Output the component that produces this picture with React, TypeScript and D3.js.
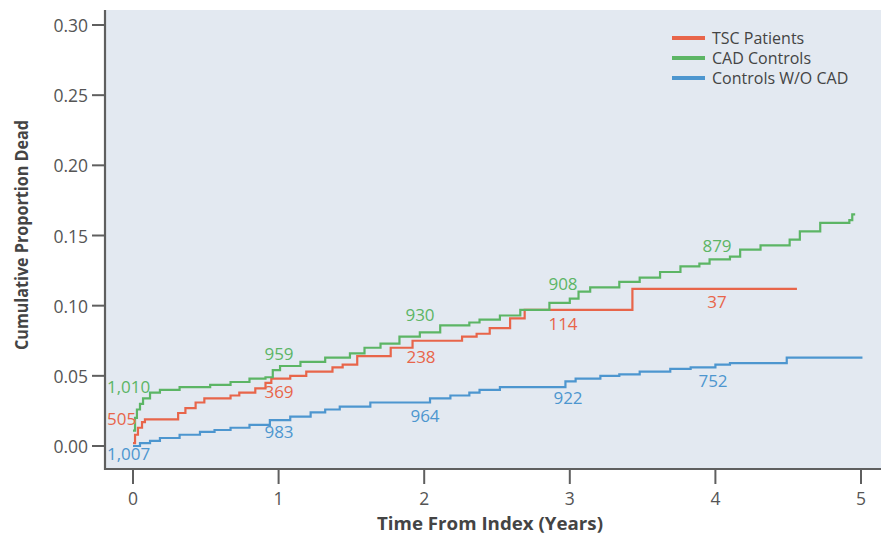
import * as d3 from "d3";

// step points: [years, cumulative proportion dead]
const tscPatients: [number, number][] = [
  [0, 0.002], [0.014, 0.008], [0.034, 0.013], [0.062, 0.017], [0.082, 0.019],
  [0.31, 0.0235], [0.36, 0.027], [0.43, 0.031], [0.49, 0.034], [0.67, 0.036],
  [0.73, 0.038], [0.84, 0.041], [0.91, 0.045], [0.95, 0.048], [1.08, 0.05],
  [1.19, 0.053], [1.37, 0.056], [1.44, 0.058], [1.54, 0.064], [1.77, 0.07],
  [1.92, 0.075], [2.26, 0.078], [2.36, 0.08], [2.45, 0.084], [2.59, 0.091],
  [2.69, 0.097], [3.43, 0.112],
];
const tscEnd = 4.56;

const cadControls: [number, number][] = [
  [0, 0.011], [0.014, 0.02], [0.027, 0.026], [0.048, 0.03], [0.069, 0.034],
  [0.117, 0.038], [0.185, 0.04], [0.32, 0.042], [0.53, 0.0435], [0.67, 0.0456],
  [0.8, 0.048], [0.91, 0.049], [0.96, 0.054], [1.01, 0.057], [1.15, 0.06],
  [1.32, 0.063], [1.49, 0.066], [1.59, 0.07], [1.7, 0.073], [1.83, 0.078],
  [1.97, 0.081], [2.11, 0.086], [2.31, 0.088], [2.38, 0.09], [2.52, 0.093],
  [2.66, 0.097], [2.86, 0.102], [3.0, 0.105], [3.06, 0.11], [3.14, 0.113],
  [3.34, 0.117], [3.48, 0.12], [3.62, 0.124], [3.76, 0.128], [3.89, 0.13],
  [3.96, 0.133], [4.1, 0.135], [4.17, 0.14], [4.31, 0.143], [4.51, 0.147],
  [4.58, 0.153], [4.72, 0.159], [4.92, 0.161], [4.94, 0.165],
];
const cadEnd = 4.96;

const controlsNoCad: [number, number][] = [
  [0, 0.0], [0.048, 0.002], [0.117, 0.0036], [0.185, 0.0057], [0.32, 0.008],
  [0.46, 0.01], [0.56, 0.0114], [0.67, 0.013], [0.8, 0.015], [0.94, 0.0185],
  [1.08, 0.021], [1.22, 0.024], [1.32, 0.026], [1.42, 0.028], [1.63, 0.031],
  [2.04, 0.034], [2.18, 0.036], [2.31, 0.038], [2.38, 0.04], [2.52, 0.042],
  [2.97, 0.046], [3.04, 0.048], [3.21, 0.05], [3.34, 0.051], [3.48, 0.053],
  [3.69, 0.055], [3.83, 0.056], [4.0, 0.058], [4.1, 0.059], [4.49, 0.063],
];
const noCadEnd = 5.01;

// numbers at risk at years 0..4
const tscAtRisk = ["505", "369", "238", "114", "37"];
const cadAtRisk = ["1,010", "959", "930", "908", "879"];
const noCadAtRisk = ["1,007", "983", "964", "922", "752"];

const seriesNames = ["TSC Patients", "CAD Controls", "Controls W/O CAD"];
const yTicks = [0, 0.05, 0.1, 0.15, 0.2, 0.25, 0.3];
const xTicks = [0, 1, 2, 3, 4, 5];

const colors = ["#e8654a", "#5cb565", "#4d96cf"];

// label placement (pixel centers), kept apart from the data
const labelLayout = [
  { xs: [107, 279, 421, 563, 717], ys: [418, 391, 356, 323, 301] },
  { xs: [107, 279, 420, 563, 717], ys: [386, 353, 314, 283, 245] },
  { xs: [107, 279, 425, 568, 713], ys: [453, 431, 415, 397, 380] },
];

export default function App() {
  const width = 881;
  const height = 534;
  const plot = { left: 105, top: 10, right: 881, bottom: 469 };

  const x = d3.scaleLinear().domain([0, 5]).range([133, 861]);
  const y = d3.scaleLinear().domain([0, 0.3]).range([446, 25]);

  const line = d3
    .line<[number, number]>()
    .x((d) => x(d[0]))
    .y((d) => y(d[1]))
    .curve(d3.curveStepAfter);

  const series = [
    { pts: tscPatients, end: tscEnd, risk: tscAtRisk },
    { pts: cadControls, end: cadEnd, risk: cadAtRisk },
    { pts: controlsNoCad, end: noCadEnd, risk: noCadAtRisk },
  ];

  const font = "'Open Sans', 'Noto Sans', sans-serif";

  return (
    <svg
      width={width}
      height={height}
      style={{ position: "absolute", left: 0, top: 0, background: "#fff" }}
      fontFamily={font}
    >
      <rect
        x={plot.left}
        y={plot.top}
        width={plot.right - plot.left}
        height={plot.bottom - plot.top}
        fill="#e3e9f1"
      />

      {series.map((s, i) => {
        const last = s.pts[s.pts.length - 1];
        const pts: [number, number][] = [...s.pts, [s.end, last[1]]];
        return (
          <path
            key={i}
            d={line(pts) || ""}
            fill="none"
            stroke={colors[i]}
            strokeWidth={2.2}
          />
        );
      })}

      {series.map((s, i) =>
        s.risk.map((r, j) => (
          <text
            key={`${i}-${j}`}
            x={labelLayout[i].xs[j]}
            y={labelLayout[i].ys[j]}
            textAnchor={j === 0 ? "start" : "middle"}
            dominantBaseline="central"
            fontSize={17}
            fill={colors[i]}
          >
            {r}
          </text>
        ))
      )}

      {/* axes */}
      <line x1={plot.left} x2={plot.left} y1={plot.top} y2={plot.bottom + 1} stroke="#5f5f5f" strokeWidth={2.2} />
      <line x1={plot.left} x2={plot.right} y1={plot.bottom} y2={plot.bottom} stroke="#5f5f5f" strokeWidth={2.2} />

      {yTicks.map((t) => (
        <g key={t}>
          <line x1={92} x2={plot.left} y1={y(t)} y2={y(t)} stroke="#5f5f5f" strokeWidth={2} />
          <text
            x={88}
            y={y(t)}
            textAnchor="end"
            dominantBaseline="central"
            fontSize={17.5}
            fill="#555"
          >
            {t.toFixed(2)}
          </text>
        </g>
      ))}

      {xTicks.map((t) => (
        <g key={t}>
          <line x1={x(t)} x2={x(t)} y1={plot.bottom} y2={484} stroke="#5f5f5f" strokeWidth={2} />
          <text
            x={x(t)}
            y={498}
            textAnchor="middle"
            dominantBaseline="central"
            fontSize={17.5}
            fill="#555"
          >
            {t}
          </text>
        </g>
      ))}

      <text
        x={490}
        y={523}
        textAnchor="middle"
        dominantBaseline="central"
        fontSize={18}
        fontWeight={700}
        fill="#444"
        textLength={226}
        lengthAdjust="spacingAndGlyphs"
      >
        Time From Index (Years)
      </text>

      <text
        transform="translate(21,235) rotate(-90)"
        textAnchor="middle"
        dominantBaseline="central"
        fontSize={18}
        fontWeight={700}
        fill="#444"
        textLength={230}
        lengthAdjust="spacingAndGlyphs"
      >
        Cumulative Proportion Dead
      </text>

      {/* legend */}
      {seriesNames.map((n, i) => (
        <g key={n} transform={`translate(672, ${38 + i * 20})`}>
          <line x1={0} x2={33} y1={0} y2={0} stroke={colors[i]} strokeWidth={4} />
          <text x={40} y={0} dominantBaseline="central" fontSize={16} fill="#444">
            {n}
          </text>
        </g>
      ))}
    </svg>
  );
}
